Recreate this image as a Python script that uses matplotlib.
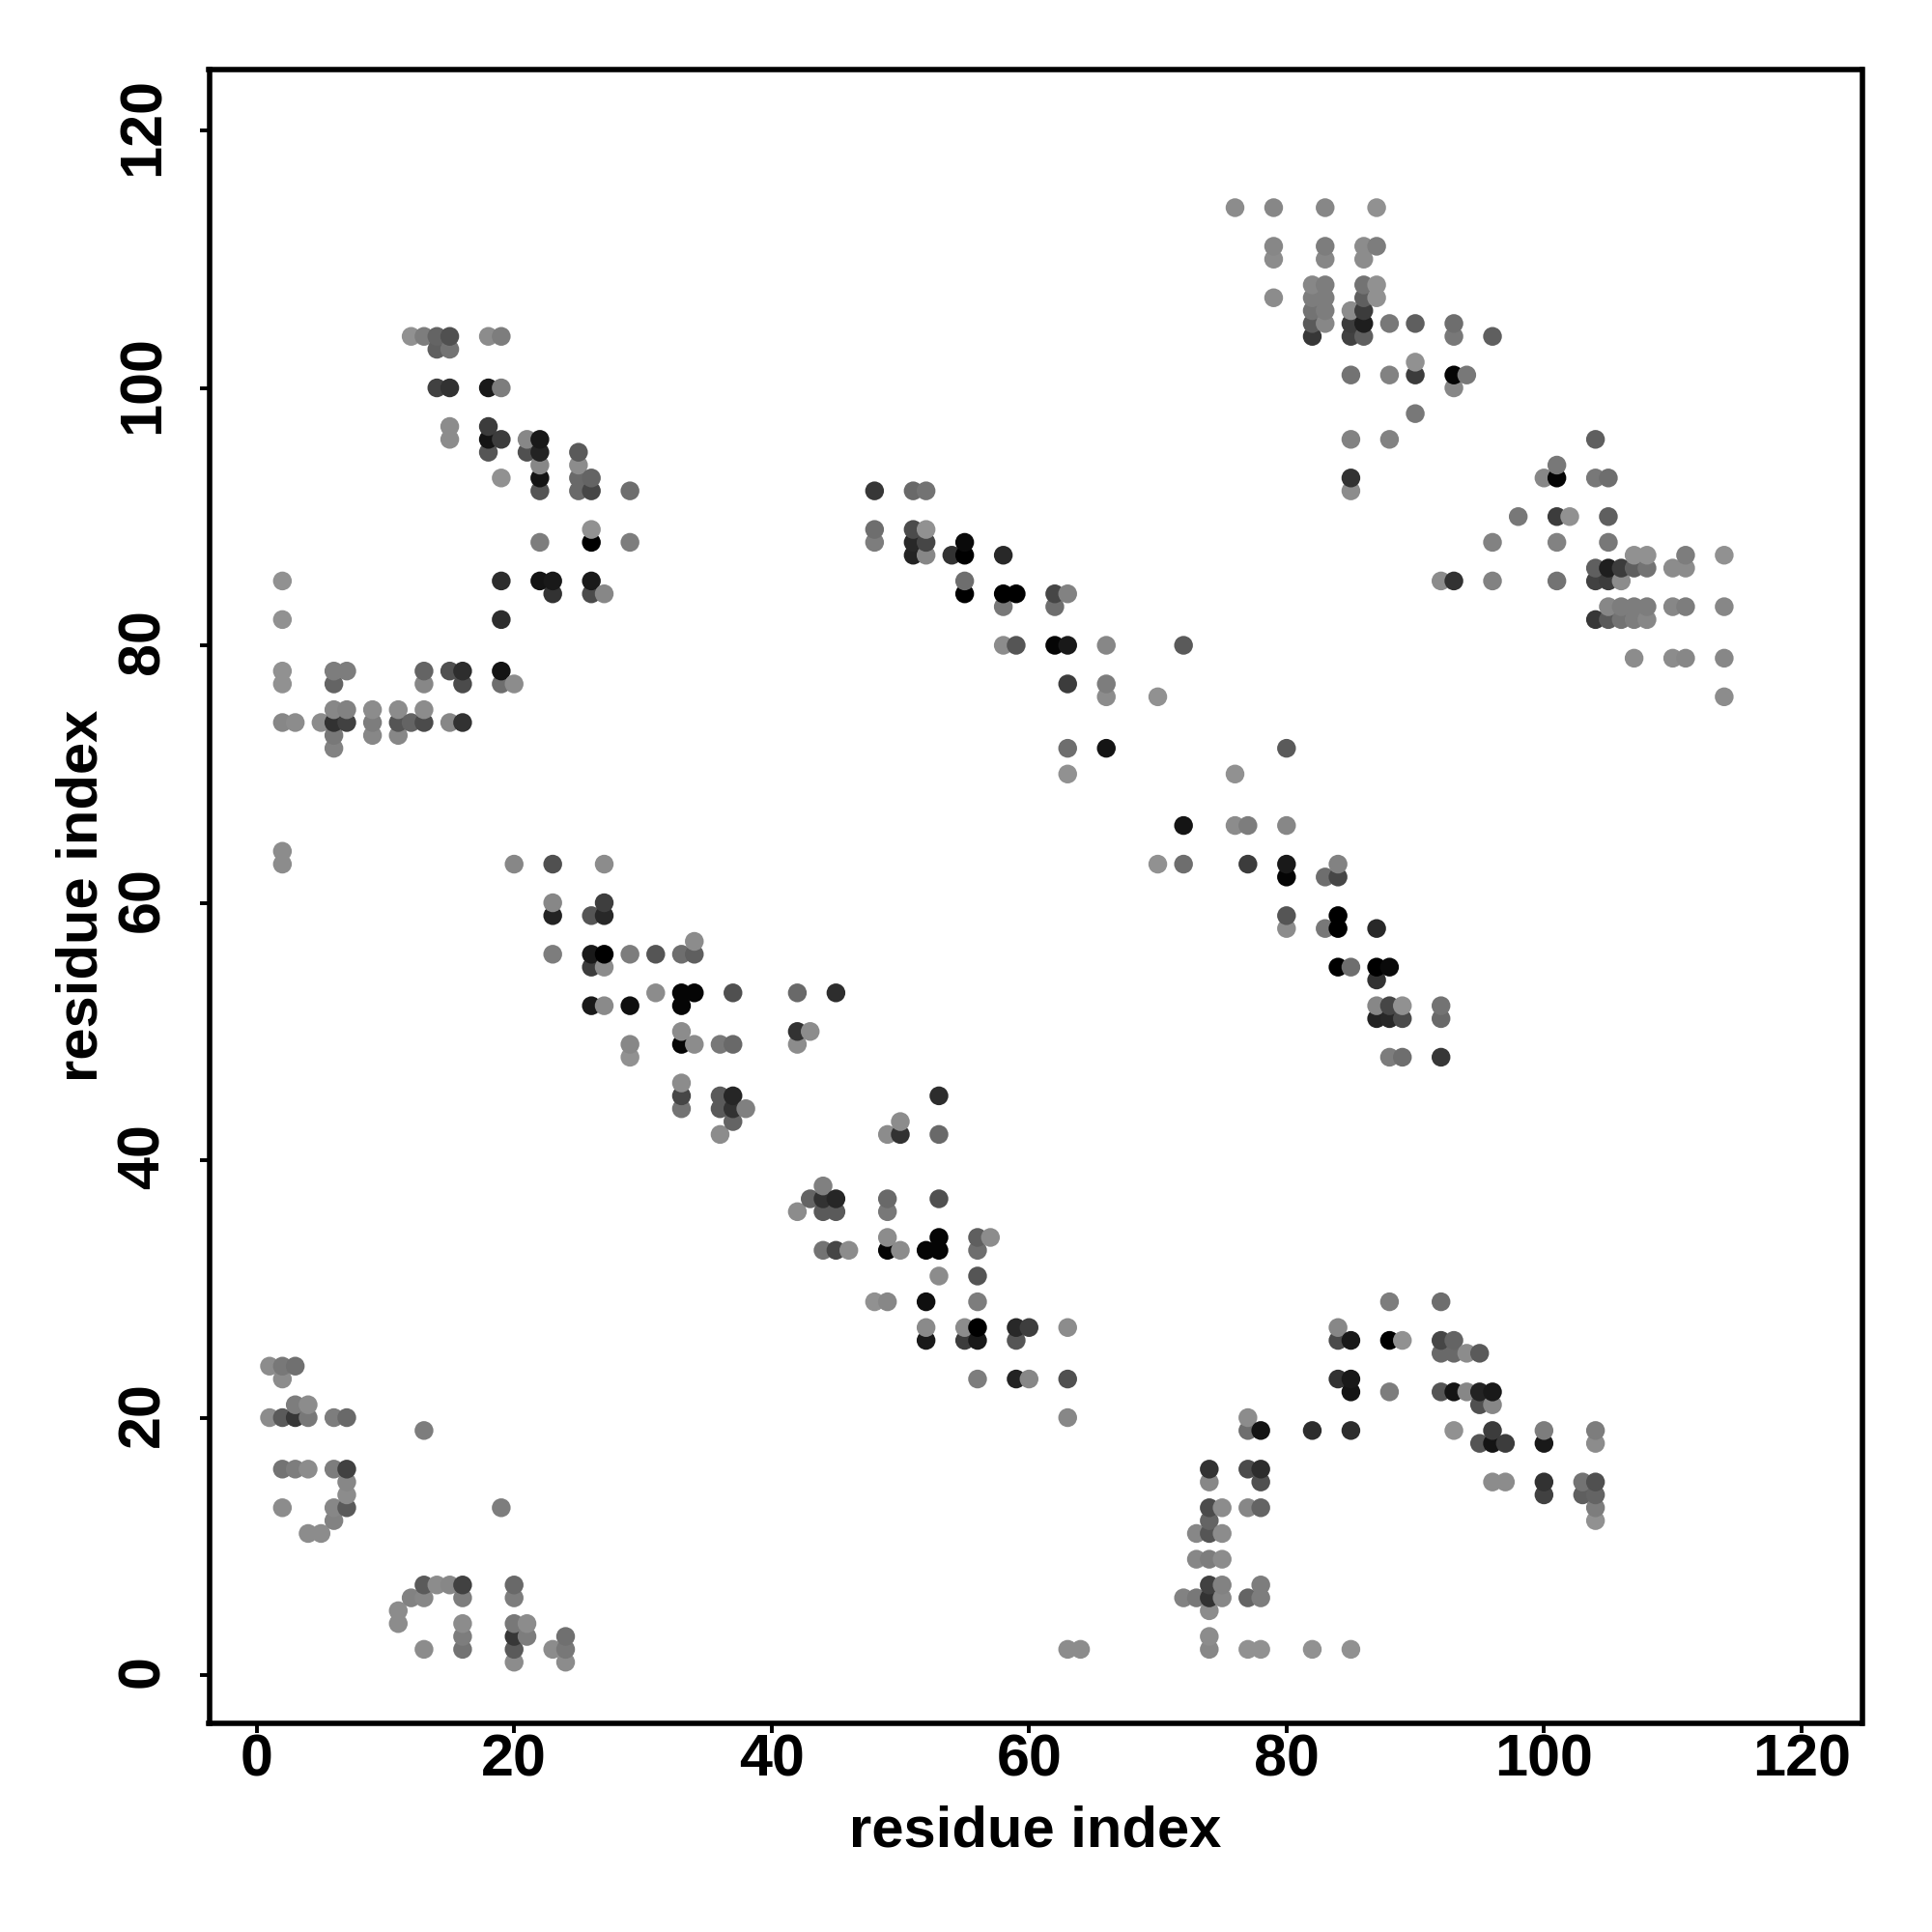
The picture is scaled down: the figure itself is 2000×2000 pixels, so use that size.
import numpy as np
import matplotlib
matplotlib.use("Agg")
import matplotlib.pyplot as plt
from matplotlib.transforms import ScaledTranslation

# The contact map is symmetric, so only the contacts above the diagonal are kept.
# Each row: residue i, its partners j, and the grey level (0-255) of each contact.
residues = [
    1, 2, 3, 4, 5, 6, 7, 9, 11, 12, 13, 14, 15, 16, 18, 19, 20, 21, 22, 23,
    25, 26, 27, 29, 31, 33, 34, 36, 37, 38, 42, 43, 45, 48, 51, 52, 54, 55,
    58, 59, 62, 63, 66, 70, 72, 76, 79, 82, 83, 85, 86, 87, 88, 90, 93, 94, 96,
]
partners = [
    [20, 24],
    [13, 16, 20, 23, 24, 63, 64, 74, 77, 78, 82, 85],
    [16, 20, 21, 24, 74],
    [11, 16, 20, 21],
    [11, 74],
    [12, 13, 16, 20, 72, 73, 74, 75, 77, 78],
    [13, 14, 15, 16, 20, 74, 75, 78],
    [73, 74, 75],
    [73, 74, 75],
    [74, 104],
    [19, 74, 75, 77, 78, 104],
    [100, 103, 104],
    [74, 78, 96, 97, 100, 103, 104],
    [74, 77, 78],
    [95, 96, 97, 100, 104],
    [77, 78, 82, 85, 93, 96, 100, 104],
    [63, 77],
    [95, 96],
    [85, 88, 92, 93, 94, 95, 96],
    [56, 59, 60, 63, 84, 85],
    [92, 93, 94, 95],
    [52, 55, 56, 59, 84, 85, 88, 89, 92, 93],
    [52, 55, 56, 59, 60, 63, 84],
    [48, 49, 52, 56, 88, 92],
    [53, 56],
    [44, 45, 46, 49, 50, 52, 53, 56],
    [49, 53, 56, 57],
    [42, 44, 45, 49],
    [43, 44, 45, 49, 53],
    [44],
    [49, 50, 53],
    [50],
    [53],
    [88, 89, 92],
    [87, 88, 89, 92],
    [87, 88, 89, 92],
    [87],
    [84, 85, 87, 88],
    [80, 83, 84, 87],
    [80, 84],
    [80, 83, 84],
    [70, 72, 77, 80, 84],
    [72, 76, 77, 80],
    [76],
    [80],
    [114],
    [107, 110, 111, 114],
    [104, 105, 106, 107, 108],
    [105, 106, 107, 108, 110, 111, 114],
    [92, 93, 96, 101, 104, 105, 106],
    [104, 105, 106, 107, 108, 110, 111],
    [107, 108, 111, 114],
    [96, 101, 105],
    [98, 101, 102, 105],
    [100, 101, 104, 105],
    [101],
    [104],
]
grays = [
    [140, 140],
    [140, 115, 90, 140, 120, 140, 140, 135, 145, 145, 145, 145],
    [125, 55, 125, 112, 140],
    [140, 140, 120, 140],
    [140, 140],
    [130, 135, 125, 125, 130, 120, 50, 135, 100, 125],
    [90, 140, 135, 65, 105, 65, 130, 125],
    [135, 125, 140],
    [135, 85, 140],
    [100, 145],
    [125, 75, 140, 135, 100, 125],
    [65, 95, 100],
    [135, 80, 140, 140, 50, 115, 80],
    [50, 75, 45],
    [85, 20, 60, 25, 140],
    [110, 20, 45, 45, 145, 60, 125, 125],
    [135, 140],
    [80, 135],
    [20, 125, 85, 20, 135, 35, 25],
    [125, 35, 135, 80, 50, 25],
    [105, 105, 140, 90],
    [25, 60, 25, 85, 75, 25, 0, 145, 70, 100],
    [138, 140, 0, 40, 62, 140, 135],
    [145, 135, 15, 125, 125, 110],
    [140, 85],
    [115, 70, 140, 5, 140, 5, 5, 110],
    [140, 5, 95, 140],
    [140, 90, 90, 120],
    [100, 50, 38, 105, 80],
    [128],
    [140, 50, 105],
    [140],
    [45],
    [125, 110, 55],
    [35, 40, 75, 105],
    [135, 70, 145, 115],
    [50],
    [0, 110, 0, 10],
    [140, 120, 0, 40],
    [85, 0],
    [5, 110, 70],
    [145, 110, 60, 25, 130],
    [20, 140, 125, 135],
    [145],
    [90],
    [140],
    [140, 140, 135, 135],
    [55, 90, 115, 125, 135],
    [135, 125, 125, 125, 135, 125, 135],
    [140, 50, 130, 115, 65, 60, 140],
    [95, 30, 60, 95, 115, 140, 140],
    [145, 145, 125, 145],
    [130, 130, 120],
    [120, 60, 145, 95],
    [135, 5, 120, 110],
    [120],
    [95],
]
tick_values = [0, 20, 40, 60, 80, 100, 120]
axis_label = "residue index"

plt.rcParams["font.family"] = ["Liberation Sans", "DejaVu Sans"]

i_all = np.concatenate([np.full(len(p), r) for r, p in zip(residues, partners)])
j_all = np.concatenate([np.array(p) for p in partners])
g_all = np.concatenate([np.array(g) for g in grays]) / 255.0

# mirror across the diagonal, later points sit on top (x then y ascending)
x = np.concatenate([i_all, j_all])
y = np.concatenate([j_all, i_all])
g = np.concatenate([g_all, g_all])
order = np.lexsort((y, x))
x, y, g = x[order], y[order], g[order]

fig = plt.figure(figsize=(10, 10), dpi=200)
ax = fig.add_axes([216.5 / 2000, 1 - 1784 / 2000, 1711 / 2000, 1712 / 2000])

ax.scatter(x, y, s=49, c=np.column_stack([g, g, g]), linewidths=0, zorder=3)

ax.set_xlim(-3.69, 124.7)
ax.set_ylim(-3.75, 124.73)
ax.set_xticks(tick_values)
ax.set_yticks(tick_values)
ax.tick_params(axis="both", direction="out", length=3.6, width=1.4, labelsize=22)
ax.tick_params(axis="x", pad=0.2)
ax.tick_params(axis="y", pad=10.5)
for lab in ax.get_xticklabels() + ax.get_yticklabels():
    lab.set_fontweight("bold")
# nudge the rotated labels up so they sit centred on their ticks
nudge = ScaledTranslation(0, 1.4 / 72, fig.dpi_scale_trans)
for lab in ax.get_yticklabels():
    lab.set_rotation(90)
    lab.set_verticalalignment("center")
    lab.set_transform(lab.get_transform() + nudge)
for spine in ax.spines.values():
    spine.set_linewidth(2.0)

fig.text(1072 / 2000, 1 - 1912 / 2000, axis_label, fontsize=21.5, fontweight="bold",
         ha="center", va="baseline")
fig.text(101 / 2000, 1 - 927 / 2000, axis_label, fontsize=21.5, fontweight="bold",
         rotation=90, rotation_mode="anchor", ha="center", va="baseline")

plt.savefig("out.png", dpi=200)
